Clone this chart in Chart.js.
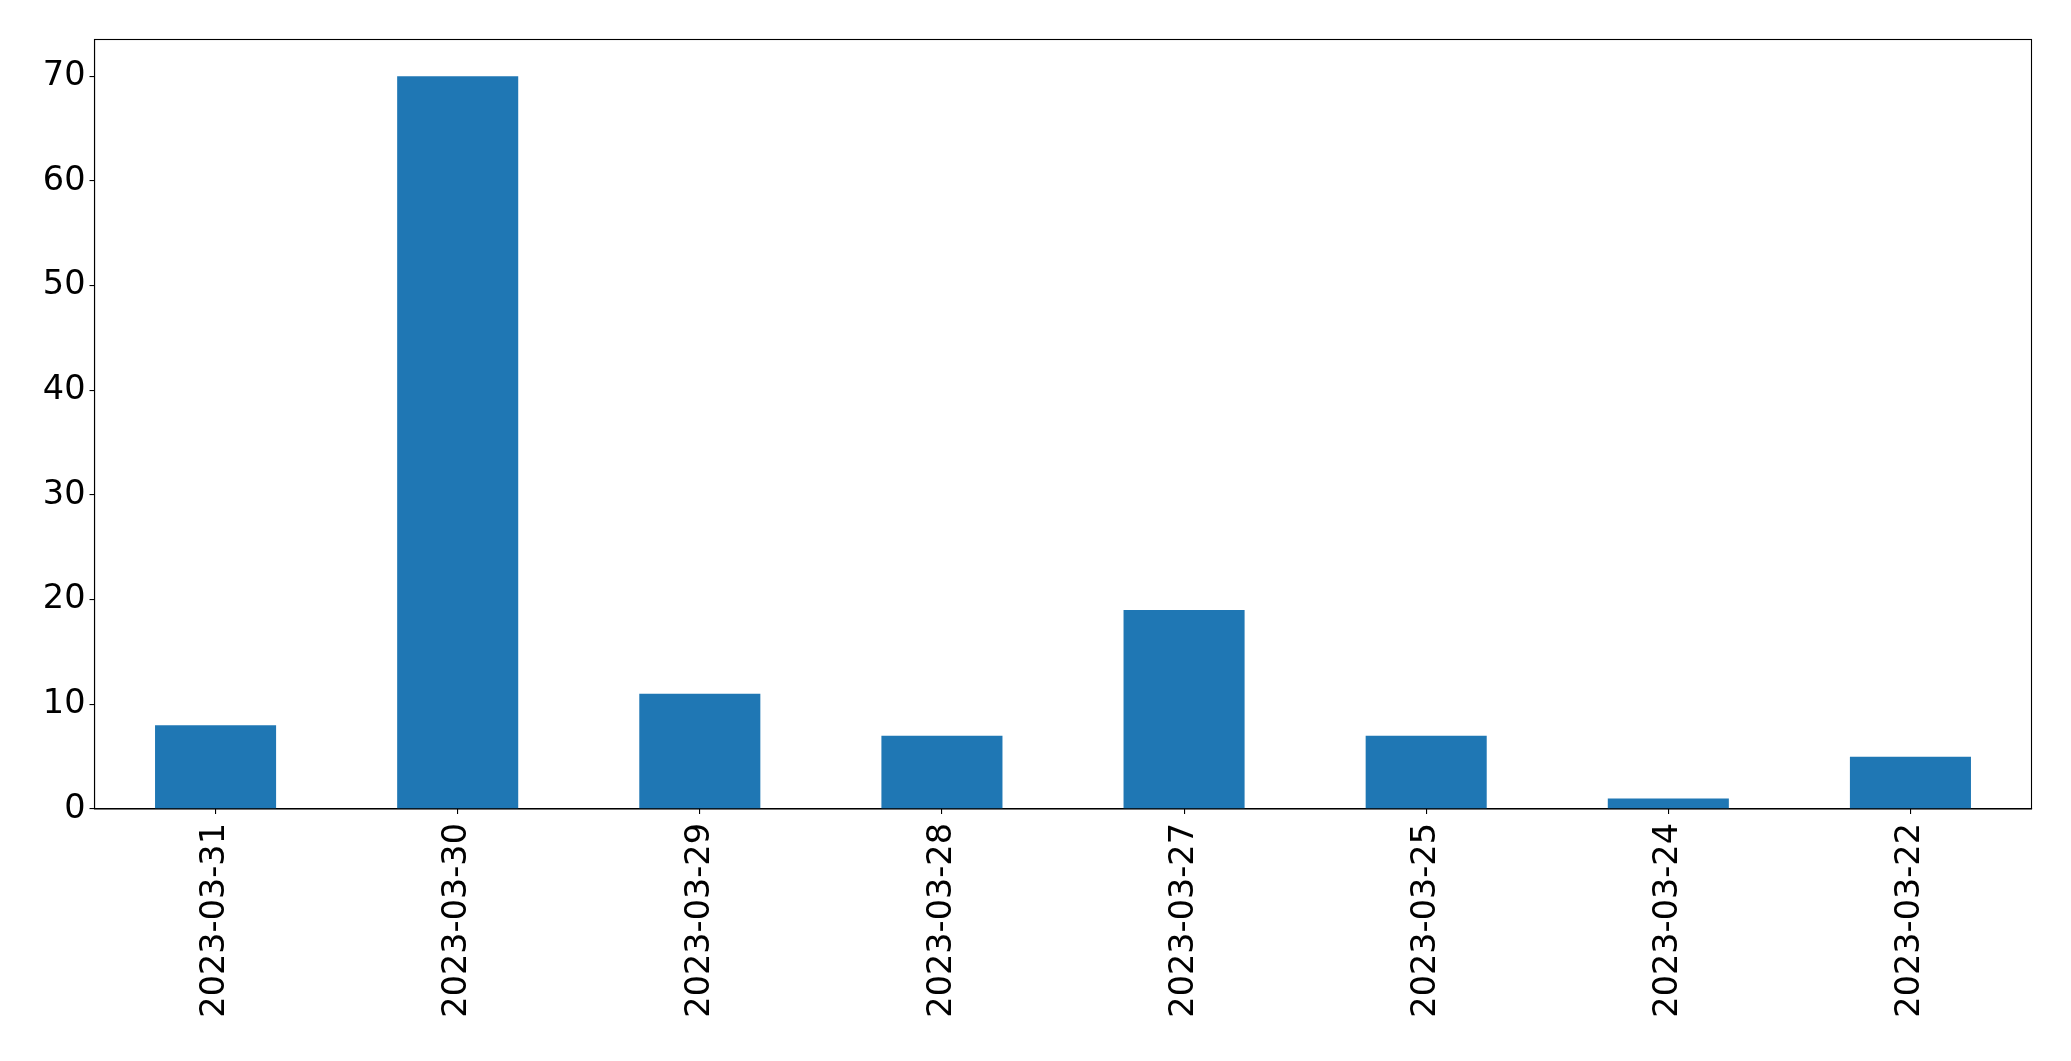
<!DOCTYPE html>
<html>
<head>
<meta charset="utf-8">
<script src="https://cdn.jsdelivr.net/npm/chart.js@4/dist/chart.umd.min.js"></script>
<style>
    body { margin: 0; background: #fff; }
    #wrap { width: 2071px; height: 1061px; }
</style>
</head>
<body>
<div id="wrap"><canvas id="barChart" width="2071" height="1061"></canvas></div>
<script>
const dates = ["2023-03-31", "2023-03-30", "2023-03-29", "2023-03-28", "2023-03-27", "2023-03-25", "2023-03-24", "2023-03-22"];
const counts = [8, 70, 11, 7, 19, 7, 1, 5];
const yTicks = [0, 10, 20, 30, 40, 50, 60, 70];

// draw the full box round the plot, like matplotlib spines
const framePlugin = {
    id: "frame",
    afterDraw(chart) {
        const { ctx, chartArea } = chart;
        ctx.save();
        ctx.strokeStyle = "#000";
        ctx.lineWidth = 1.1;
        ctx.strokeRect(chartArea.left, chartArea.top, chartArea.right - chartArea.left, chartArea.bottom - chartArea.top);
        ctx.restore();
    },
};

Chart.defaults.font.family = "'DejaVu Sans', sans-serif";
Chart.defaults.color = "#000";

const ctx = document.getElementById("barChart").getContext("2d");
new Chart(ctx, {
    type: "bar",
    data: {
        labels: dates,
        datasets: [
            {
                data: counts,
                backgroundColor: "#1f77b4",
                borderWidth: 0,
                categoryPercentage: 1,
                barPercentage: 0.5,
            },
        ],
    },
    options: {
        responsive: false,
        animation: false,
        layout: { padding: { top: 39.5, right: 39.5, left: 0, bottom: 0 } },
        plugins: { legend: { display: false }, tooltip: { enabled: false } },
        scales: {
            x: {
                offset: true,
                grid: { offset: false, drawOnChartArea: false, drawTicks: true, tickLength: 5, color: "#000", lineWidth: 1.1 },
                border: { display: true, color: "#000", width: 1.1 },
                ticks: { minRotation: 90, maxRotation: 90, autoSkip: false, padding: 9, font: { size: 33.5 } },
                afterFit(scale) { scale.height = 252; },
            },
            y: {
                min: 0,
                max: 73.5,
                grid: { drawOnChartArea: false, drawTicks: true, tickLength: 5, color: "#000", lineWidth: 1.1 },
                border: { display: true, color: "#000", width: 1.1 },
                afterBuildTicks(scale) { scale.ticks = yTicks.map((v) => ({ value: v })); },
                ticks: { padding: 4, font: { size: 33.5 } },
                afterFit(scale) { scale.width = 94.5; },
            },
        },
    },
    plugins: [framePlugin],
});
</script>
</body>
</html>
